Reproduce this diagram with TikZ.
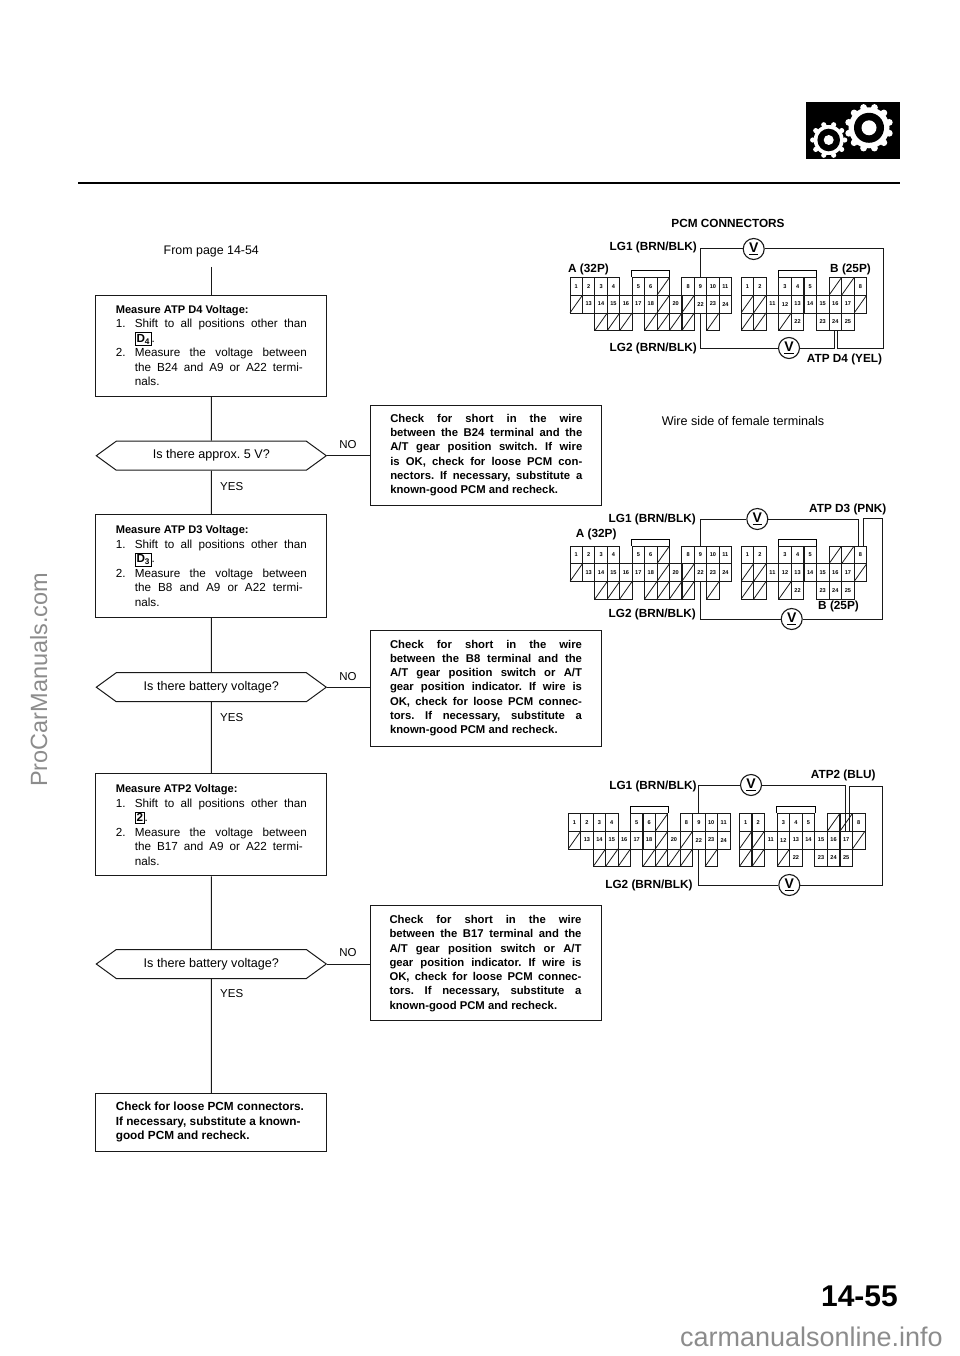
\documentclass[tikz,border=0pt]{standalone}
\usepackage{fontspec}
\setmainfont{Liberation Sans}
\usetikzlibrary{shapes.symbols}
\frenchspacing
\setlength{\fboxsep}{1pt}
\setlength{\fboxrule}{0.7pt}
\newcommand{\stepno}[3][172pt]{\makebox[19pt][l]{#2}\makebox[#1][s]{#3}\\}
\newcommand{\stepmore}[2][172pt]{\hspace*{19pt}\makebox[#1][s]{#2}\\}
\newcommand{\stepkey}[1]{\hspace*{19pt}\smash{\fbox{\textbf{#1}}}.\\}
\newcommand{\steptitle}[1]{{\bfseries\fontsize{11.1}{14.5}\selectfont #1}\\}
\newcommand{\chkline}[1]{\makebox[192pt][s]{#1}\\}
\tikzset{
    x=1pt,y=-1pt,
    wire/.style={line width=1pt,draw=black!90},
    flowbox/.style={draw=black!90,rectangle,line width=1pt,align=flush left,inner ysep=0pt,
        font=\fontsize{11.7}{14.5}\selectfont},
    leftbox/.style={flowbox,text width=191pt,inner xsep=20pt},
    rightbox/.style={flowbox,text width=192pt,inner xsep=19.5pt,
        font=\bfseries\fontsize{11.3}{14.3}\selectfont},
    decision/.style={draw=black!90,line width=1pt,signal,signal to=west and east,
        signal from=nowhere,signal pointer angle=72,minimum width=230pt,minimum height=29pt,
        inner sep=0pt,font=\fontsize{12.6}{14}\selectfont},
    answer/.style={inner sep=0pt,font=\fontsize{11.5}{13}\selectfont},
    lab/.style={inner sep=0pt,font=\bfseries\fontsize{11.8}{13}\selectfont},
    pin/.style={draw=black!90,rectangle,line width=0.8pt,minimum width=12.5pt,
        minimum height=17.7pt,inner sep=0pt,font=\bfseries\fontsize{5.6}{6}\selectfont},
    nopin/.style={pin,path picture={\draw[line width=0.8pt]
        (path picture bounding box.south west) -- (path picture bounding box.north east);}},
    vmeter/.style={draw=black!90,circle,line width=1.1pt,minimum size=21pt,inner sep=0pt,
        fill=white,font=\bfseries\fontsize{14}{14}\selectfont},
    mark text/.style={inner sep=0pt,text=black!45,font=\fontsize{#1}{#1}\selectfont}
}
%% One pair of PCM connectors, A and B
\newcommand{\pcmconn}[3]{%
\begin{scope}[shift={(#2,#3)},name prefix=#1-]
    \foreach \col/\rowno/\pinno in {0/0/1,1/0/2,2/0/3,3/0/4,5/0/5,6/0/6,9/0/8,10/0/9,11/0/10,12/0/11,
        1/1/13,2/1/14,3/1/15,4/1/16,5/1/17,6/1/18,8/1/20,10/1/22,11/1/23,12/1/24}
        \node[pin] (A\pinno) at (\col*12.43+6.2,\rowno*17.7+8.85) {\pinno};
    \foreach \col/\rowno in {7/0,0/1,7/1,9/1,2/2,3/2,4/2,6/2,7/2,8/2,9/2,11/2}
        \node[nopin] (AX\col Y\rowno) at (\col*12.43+6.2,\rowno*17.7+8.85) {};
    \foreach \col/\rowno/\pinno in {0/0/1,1/0/2,3/0/3,4/0/4,5/0/5,9/0/8,
        2/1/11,3/1/12,4/1/13,5/1/14,6/1/15,7/1/16,8/1/17,4/2/22,6/2/23,7/2/24,8/2/25}
        \node[pin] (B\pinno) at (\col*12.57+177.3,\rowno*17.7+8.85) {\pinno};
    \foreach \col/\rowno in {7/0,8/0,0/1,1/1,9/1,0/2,1/2,3/2}
        \node[nopin] (BX\col Y\rowno) at (\col*12.57+177.3,\rowno*17.7+8.85) {};
    \draw[line width=0.8pt] (A5.north west) -- ++(0,-6.5) -| (AX7Y0.north east);
    \draw[line width=0.8pt] (B3.north west) -- ++(0,-6.5) -| (B5.north east);
\end{scope}}
\begin{document}
\begin{tikzpicture}
    \useasboundingbox (0,0) rectangle (960,1356);
    %% Gear badge and head rule
    \fill[black] (806,101.7) rectangle (900,159.3);
    \foreach \ang in {0,30,...,330}
        \fill[white] (869,127.8) ++(\ang+15:21) circle (3.4);
    \foreach \ang in {0,36,...,324}
        \fill[white] (828.7,140) ++(\ang:16) circle (2.6);
    \fill[white] (869,127.8) circle (20.5);
    \fill[black] (869,127.8) circle (15);
    \fill[white] (869,127.8) circle (7.5);
    \fill[white] (828.7,140) circle (15);
    \fill[black] (828.7,140) circle (11.3);
    \fill[white] (828.7,140) circle (5);
    \draw[line width=1.8pt] (78,183.3) -- (900,183.3);
    %% Flow chart, left column
    \node[minimum height=30pt,inner sep=0pt,font=\fontsize{12.4}{14}\selectfont]
        (from) at (211.3,251.7) {From page 14-54};
    \node[leftbox,minimum height=101pt] (m1) at (211.3,345.5) {%
        \steptitle{Measure ATP D4 Voltage:}
        \stepno{1.}{Shift to all positions other than}
        \stepkey{D\textsubscript{4}}
        \stepno{2.}{Measure the voltage between}
        \stepmore[168pt]{the B24 and A9 or A22 termi-}
        \hspace*{19pt}nals.};
    \node[decision] (q1) at (211.3,455.7) {Is there approx. 5 V?};
    \node[answer] (yes1) at (231.7,486.7) {YES};
    \node[answer] (no1) at (348,445) {NO};
    \node[leftbox,minimum height=103pt] (m2) at (211.3,566) {%
        \steptitle{Measure ATP D3 Voltage:}
        \stepno{1.}{Shift to all positions other than}
        \stepkey{D\textsubscript{3}}
        \stepno{2.}{Measure the voltage between}
        \stepmore[168pt]{the B8 and A9 or A22 termi-}
        \hspace*{19pt}nals.};
    \node[decision] (q2) at (211.3,687.2) {Is there battery voltage?};
    \node[answer] (yes2) at (231.7,717.5) {YES};
    \node[answer] (no2) at (348,676.7) {NO};
    \node[leftbox,minimum height=102pt] (m3) at (211.3,824.8) {%
        \steptitle{Measure ATP2 Voltage:}
        \stepno{1.}{Shift to all positions other than}
        \stepkey{2}
        \stepno{2.}{Measure the voltage between}
        \stepmore[168pt]{the B17 and A9 or A22 termi-}
        \hspace*{19pt}nals.};
    \node[decision] (q3) at (211.3,964) {Is there battery voltage?};
    \node[answer] (yes3) at (231.7,994) {YES};
    \node[answer] (no3) at (348,953) {NO};
    \node[leftbox,minimum height=58pt,font=\bfseries\fontsize{11.8}{14.5}\selectfont]
        (m4) at (211.3,1122.3) {%
        Check for loose PCM connectors.\\
        If necessary, substitute a known-\\
        good PCM and recheck.};
    %% Flow chart, right column
    \node[rightbox,minimum height=100pt] (r1) at (486.3,455) {%
        \chkline{Check for short in the wire}
        \chkline{between the B24 terminal and the}
        \chkline{A/T gear position switch. If wire}
        \chkline{is OK, check for loose PCM con-}
        \chkline{nectors. If necessary, substitute a}
        known-good PCM and recheck.};
    \node[rightbox,minimum height=116pt] (r2) at (486,688) {%
        \chkline{Check for short in the wire}
        \chkline{between the B8 terminal and the}
        \chkline{A/T gear position switch or A/T}
        \chkline{gear position indicator. If wire is}
        \chkline{OK, check for loose PCM connec-}
        \chkline{tors. If necessary, substitute a}
        known-good PCM and recheck.};
    \node[rightbox,minimum height=115pt] (r3) at (485.5,963.4) {%
        \chkline{Check for short in the wire}
        \chkline{between the B17 terminal and the}
        \chkline{A/T gear position switch or A/T}
        \chkline{gear position indicator. If wire is}
        \chkline{OK, check for loose PCM connec-}
        \chkline{tors. If necessary, substitute a}
        known-good PCM and recheck.};
    %% Flow lines
    \draw[wire] (from) -- (m1);
    \draw[wire] (m1) -- (q1);
    \draw[wire] (q1) -- (m2);
    \draw[wire] (m2) -- (q2);
    \draw[wire] (q2) -- (m3);
    \draw[wire] (m3) -- (q3);
    \draw[wire] (q3) -- (m4);
    \draw[wire] (q1.east) -- (q1.east -| r1.west);
    \draw[wire] (q2.east) -- (q2.east -| r2.west);
    \draw[wire] (q3.east) -- (q3.east -| r3.west);
    %% Connectors
    \pcmconn{c1}{570}{277.5}
    \pcmconn{c2}{570}{546}
    \pcmconn{c3}{568.3}{813.5}
    %% Meters
    \node[vmeter] (V1a) at (753.7,249) {\underline{V}};
    \node[vmeter] (V1b) at (789,348) {\underline{V}};
    \node[vmeter] (V2a) at (757.3,519) {\underline{V}};
    \node[vmeter] (V2b) at (791.7,619) {\underline{V}};
    \node[vmeter] (V3a) at (751,785) {\underline{V}};
    \node[vmeter] (V3b) at (789.3,885) {\underline{V}};
    \coordinate (W1) at (883,348);
    \coordinate (W2) at (882.3,518);
    \coordinate (W3) at (882.7,786);
    %% Test leads
    \draw[wire] (c1-A9.north) |- (V1a.west);
    \draw[wire] (V1a.east) -| (W1) -| ([xshift=2pt]c1-B24.south);
    \draw[wire] (c1-A22.south) |- (V1b.west);
    \draw[wire] (V1b.east) -| ([xshift=-0.8pt]c1-B24.south);
    \draw[wire] (c2-A9.north) |- (V2a.west);
    \draw[wire] (V2a.east) -| ([xshift=-1.5pt]c2-B8.north);
    \draw[wire] ([xshift=3.5pt]c2-B8.north) |- (W2) |- (V2b.east);
    \draw[wire] (c2-A22.south) |- (V2b.west);
    \draw[wire] (c3-A9.north) |- (V3a.west);
    \draw[wire] (V3a.east) -| ([xshift=-1pt]c3-B17.north);
    \draw[wire] ([xshift=3.5pt]c3-B17.north) |- (W3) |- (V3b.east);
    \draw[wire] (c3-A22.south) |- (V3b.west);
    %% Connector labels
    \node[lab] (pcm) at (728,223) {PCM CONNECTORS};
    \node[lab,anchor=east] (lg1a) at (697,247) {LG1 (BRN/BLK)};
    \node[lab,anchor=west] (a1) at (568,269.7) {A (32P)};
    \node[lab,anchor=west] (b1) at (830,269) {B (25P)};
    \node[lab,anchor=east] (lg2a) at (697,348) {LG2 (BRN/BLK)};
    \node[lab,anchor=west] (atpa) at (806.7,359) {ATP D4 (YEL)};
    \node[inner sep=0pt,font=\fontsize{12.6}{14}\selectfont] (side) at (743,421)
        {Wire side of female terminals};
    \node[lab,anchor=east] (lg1b) at (696,519.3) {LG1 (BRN/BLK)};
    \node[lab,anchor=west] (a2) at (575.7,534.7) {A (32P)};
    \node[lab,anchor=west] (atpb) at (809,509.3) {ATP D3 (PNK)};
    \node[lab,anchor=east] (lg2b) at (696,614) {LG2 (BRN/BLK)};
    \node[lab,anchor=west] (b2) at (818,606.7) {B (25P)};
    \node[lab,anchor=east] (lg1c) at (696.7,786) {LG1 (BRN/BLK)};
    \node[lab,anchor=west] (atpc) at (810.7,775.7) {ATP2 (BLU)};
    \node[lab,anchor=east] (lg2c) at (692.7,885) {LG2 (BRN/BLK)};
    %% Page number and marks
    \node[inner sep=0pt,font=\bfseries\fontsize{30}{30}\selectfont,anchor=east]
        (page) at (898,1296.7) {14-55};
    \node[mark text=27,anchor=base east] (site) at (943,1346) {carmanualsonline.info};
    \node[mark text=23.5,anchor=base west,rotate=90] (pro) at (47,787) {ProCarManuals.com};
\end{tikzpicture}
\end{document}
